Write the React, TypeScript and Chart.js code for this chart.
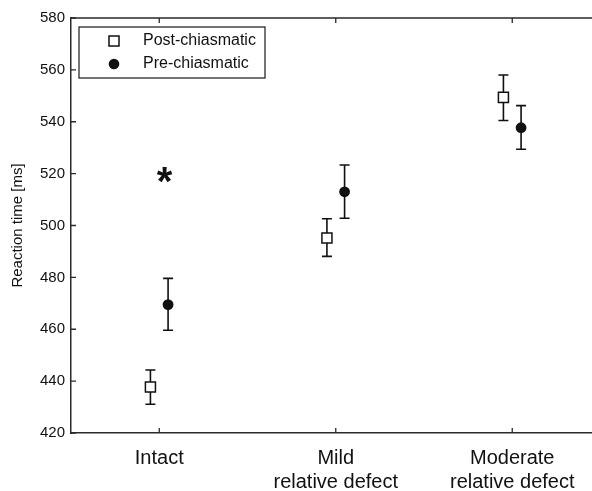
import React, { useEffect, useRef } from 'react';
import { Chart, registerables } from 'chart.js';

Chart.register(...registerables);

const categories: (string | string[])[] = ['Intact', ['Mild', 'relative defect'], ['Moderate', 'relative defect']];
const categoryPositions = [1, 2, 3];
const seriesNames = ['Post-chiasmatic', 'Pre-chiasmatic'];

const postMean = [437.7, 495.2, 549.4];
const postLow = [431.1, 488.1, 540.5];
const postHigh = [444.3, 502.6, 558.0];

const preMean = [469.5, 513.0, 537.7];
const preLow = [459.6, 502.8, 529.4];
const preHigh = [479.6, 523.3, 546.2];

const yTicks = [420, 440, 460, 480, 500, 520, 540, 560, 580];
const significance = { x: 1.03, y: 519.5, text: '*' };

const FONT = '"Liberation Sans", Arial, Helvetica, sans-serif';
const AXIS_COLOR = '#2a2a2a';
const OFFSET = 0.05;

const errorBarPlugin = {
  id: 'errorBars',
  beforeDatasetsDraw(chart: any) {
    const { ctx, scales } = chart;
    const xs = scales.x;
    const ys = scales.y;
    const groups = [
      { off: -OFFSET, lo: postLow, hi: postHigh },
      { off: OFFSET, lo: preLow, hi: preHigh },
    ];
    ctx.save();
    ctx.strokeStyle = '#111';
    ctx.lineWidth = 1.6;
    groups.forEach((g) => {
      categoryPositions.forEach((c, i) => {
        const px = xs.getPixelForValue(c + g.off);
        const pLo = ys.getPixelForValue(g.lo[i]);
        const pHi = ys.getPixelForValue(g.hi[i]);
        ctx.beginPath();
        ctx.moveTo(px, pLo);
        ctx.lineTo(px, pHi);
        ctx.moveTo(px - 5, pLo);
        ctx.lineTo(px + 5, pLo);
        ctx.moveTo(px - 5, pHi);
        ctx.lineTo(px + 5, pHi);
        ctx.stroke();
      });
    });
    ctx.restore();
  },
  afterDraw(chart: any) {
    const { ctx, scales, chartArea } = chart;
    const xs = scales.x;
    const ys = scales.y;
    const { left, right, top, bottom } = chartArea;
    ctx.save();
    ctx.strokeStyle = AXIS_COLOR;
    ctx.lineWidth = 1.5;
    ctx.beginPath();
    ctx.moveTo(left, top);
    ctx.lineTo(right, top);
    ctx.lineTo(right, bottom);
    ctx.stroke();
    ctx.lineWidth = 1.3;
    ctx.beginPath();
    yTicks.forEach((v) => {
      const py = ys.getPixelForValue(v);
      ctx.moveTo(left, py);
      ctx.lineTo(left + 5, py);
      ctx.moveTo(right, py);
      ctx.lineTo(right - 5, py);
    });
    categoryPositions.forEach((c) => {
      const px = xs.getPixelForValue(c);
      ctx.moveTo(px, bottom);
      ctx.lineTo(px, bottom - 5);
      ctx.moveTo(px, top);
      ctx.lineTo(px, top + 5);
    });
    ctx.stroke();

    ctx.fillStyle = '#111';
    ctx.font = `bold 40px ${FONT}`;
    ctx.textAlign = 'center';
    ctx.textBaseline = 'middle';
    ctx.fillText(significance.text, xs.getPixelForValue(significance.x), ys.getPixelForValue(significance.y) + 9);

    const bx = 79, by = 27, bw = 186, bh = 51;
    ctx.fillStyle = '#fff';
    ctx.fillRect(bx, by, bw, bh);
    ctx.strokeStyle = AXIS_COLOR;
    ctx.lineWidth = 1.3;
    ctx.strokeRect(bx, by, bw, bh);
    ctx.lineWidth = 1.5;
    ctx.strokeStyle = '#111';
    ctx.fillStyle = '#fff';
    ctx.fillRect(109, 36, 10, 10);
    ctx.strokeRect(109, 36, 10, 10);
    ctx.fillStyle = '#111';
    ctx.beginPath();
    ctx.arc(114, 64, 5.3, 0, Math.PI * 2);
    ctx.fill();
    ctx.font = `16px ${FONT}`;
    ctx.textAlign = 'left';
    ctx.textBaseline = 'middle';
    ctx.fillStyle = '#111';
    ctx.fillText(seriesNames[0], 143, 41);
    ctx.fillText(seriesNames[1], 143, 64);
    ctx.restore();
  },
};

export default function App() {
  const ref = useRef<HTMLCanvasElement | null>(null);
  useEffect(() => {
    if (!ref.current) return;
    const chart = new Chart(ref.current, {
      type: 'scatter',
      data: {
        datasets: [
          {
            label: seriesNames[0],
            data: categoryPositions.map((c, i) => ({ x: c - OFFSET, y: postMean[i] })),
            pointStyle: 'rect',
            pointRadius: 7.1,
            pointBackgroundColor: '#fff',
            pointBorderColor: '#111',
            pointBorderWidth: 1.5,
            showLine: false,
          },
          {
            label: seriesNames[1],
            data: categoryPositions.map((c, i) => ({ x: c + OFFSET, y: preMean[i] })),
            pointStyle: 'circle',
            pointRadius: 5.4,
            pointBackgroundColor: '#111',
            pointBorderColor: '#111',
            pointBorderWidth: 0,
            showLine: false,
          },
        ],
      },
      options: {
        responsive: false,
        animation: false,
        layout: { padding: { top: 18, left: 0, right: 9.5, bottom: 0 } },
        plugins: { legend: { display: false }, tooltip: { enabled: false } },
        scales: {
          x: {
            type: 'linear',
            min: 0.5,
            max: 3.5,
            afterBuildTicks: (scale: any) => {
              scale.ticks = categoryPositions.map((v) => ({ value: v }));
            },
            afterFit: (scale: any) => {
              scale.height = 58;
            },
            grid: { display: false, drawTicks: false },
            border: { display: true, color: AXIS_COLOR, width: 1.5 },
            ticks: {
              padding: 13,
              color: '#111',
              font: { family: FONT, size: 20, lineHeight: 1.2 },
              maxRotation: 0,
              autoSkip: false,
              callback: (v: any) => {
                const idx = categoryPositions.indexOf(Number(v));
                return idx >= 0 ? categories[idx] : '';
              },
            },
          },
          y: {
            min: 420,
            max: 580,
            afterFit: (scale: any) => {
              scale.width = 71;
            },
            grid: { display: false, drawTicks: false },
            border: { display: true, color: AXIS_COLOR, width: 1.5 },
            ticks: {
              stepSize: 20,
              padding: 6,
              color: '#111',
              font: { family: FONT, size: 15 },
            },
            title: {
              display: true,
              text: 'Reaction time [ms]',
              color: '#111',
              font: { family: FONT, size: 15 },
              padding: { top: 9, bottom: 0 },
            },
          },
        },
      },
      plugins: [errorBarPlugin],
    });
    return () => chart.destroy();
  }, []);

  return (
    <div style={{ position: 'absolute', left: 0, top: 0, width: 592, height: 491, overflow: 'hidden', background: '#fff' }}>
      <canvas ref={ref} width={610} height={491} style={{ display: 'block' }} />
    </div>
  );
}
